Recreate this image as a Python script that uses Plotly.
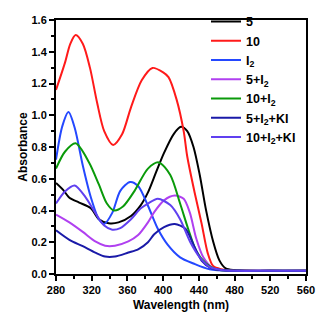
import plotly.graph_objects as go

# ---- data ----
x_5 = [280, 288, 295, 306, 319, 328, 339, 350, 364, 375, 383, 392, 401, 412, 420, 427, 434, 441, 448, 456, 463, 470, 480, 520, 560]
y_5 = [0.574, 0.53, 0.48, 0.45, 0.414, 0.345, 0.32, 0.325, 0.365, 0.434, 0.514, 0.64, 0.763, 0.883, 0.927, 0.9, 0.80, 0.624, 0.404, 0.205, 0.086, 0.036, 0.025, 0.02, 0.02]

x_10 = [280, 290, 296, 302, 310, 318, 326, 334, 344, 354, 364, 376, 388, 400, 406, 415, 423, 427, 435, 443, 450, 456, 465, 480, 520, 560]
y_10 = [1.16, 1.33, 1.45, 1.505, 1.45, 1.30, 1.08, 0.90, 0.813, 0.88, 1.05, 1.22, 1.298, 1.27, 1.24, 1.10, 0.90, 0.74, 0.52, 0.32, 0.13, 0.05, 0.03, 0.02, 0.02, 0.02]

x_i2 = [280, 287, 294, 301, 310, 319, 328, 334, 343, 352, 363, 372, 383, 394, 405, 419, 434, 452, 480, 520, 560]
y_i2 = [0.72, 0.93, 1.02, 0.92, 0.684, 0.484, 0.345, 0.315, 0.385, 0.524, 0.58, 0.554, 0.43, 0.285, 0.185, 0.105, 0.066, 0.03, 0.02, 0.02, 0.02]

x_5i2 = [280, 295, 310, 324, 335, 346, 361, 372, 383, 390, 401, 413, 423, 430, 437, 445, 456, 470, 480, 520, 560]
y_5i2 = [0.374, 0.325, 0.265, 0.205, 0.178, 0.178, 0.205, 0.245, 0.325, 0.39, 0.464, 0.494, 0.474, 0.385, 0.225, 0.105, 0.036, 0.022, 0.02, 0.02, 0.02]

x_10i2 = [280, 290, 302, 317, 328, 337, 345, 355, 368, 383, 395, 408, 419, 428, 437, 448, 459, 480, 520, 560]
y_10i2 = [0.664, 0.77, 0.823, 0.703, 0.564, 0.444, 0.40, 0.425, 0.524, 0.664, 0.703, 0.624, 0.444, 0.285, 0.145, 0.066, 0.03, 0.02, 0.02, 0.02]

x_5i2ki = [280, 295, 310, 324, 335, 346, 361, 372, 383, 390, 401, 413, 425, 434, 443, 454, 470, 480, 520, 560]
y_5i2ki = [0.275, 0.215, 0.175, 0.135, 0.11, 0.11, 0.135, 0.155, 0.2, 0.25, 0.295, 0.315, 0.285, 0.185, 0.085, 0.036, 0.022, 0.02, 0.02, 0.02]

x_10i2ki = [280, 290, 301, 313, 324, 334, 343, 352, 364, 375, 383, 394, 408, 419, 430, 441, 452, 465, 480, 520, 560]
y_10i2ki = [0.444, 0.52, 0.558, 0.484, 0.385, 0.305, 0.279, 0.289, 0.345, 0.414, 0.444, 0.474, 0.434, 0.345, 0.205, 0.105, 0.045, 0.025, 0.02, 0.02, 0.02]

names = ["5", "10", "I<sub>2</sub>", "5+I<sub>2</sub>", "10+I<sub>2</sub>", "5+I<sub>2</sub>+KI", "10+I<sub>2</sub>+KI"]
xs = [x_5, x_10, x_i2, x_5i2, x_10i2, x_5i2ki, x_10i2ki]
ys = [y_5, y_10, y_i2, y_5i2, y_10i2, y_5i2ki, y_10i2ki]
colors = ["#000000", "#ff1a1a", "#2448ff", "#b040f0", "#0a9a0a", "#1a1aa8", "#6040f0"]

fig = go.Figure()
for n, x, y, c in zip(names, xs, ys, colors):
    fig.add_trace(go.Scatter(x=x, y=y, name="<b>" + n + "</b>", mode="lines",
                             line=dict(color=c, width=2, shape="spline", smoothing=0.8)))

FONT = "Liberation Sans, Arial, sans-serif"
fig.update_layout(
    width=322, height=319,
    margin=dict(l=56, r=11, t=7, b=45),
    paper_bgcolor="white", plot_bgcolor="white",
    font=dict(family=FONT, size=11, color="black"),
    showlegend=True,
    legend=dict(x=0.6, y=1.052, xanchor="left", yanchor="top",
                bgcolor="rgba(0,0,0,0)", font=dict(size=12.5, family=FONT),
                tracegroupgap=0, itemwidth=30),
    xaxis=dict(range=[280, 560], dtick=40, tick0=280, showgrid=False, zeroline=False,
               showline=True, linewidth=2, linecolor="black", mirror=True,
               ticks="outside", ticklen=5, tickwidth=2, tickcolor="black",
               minor=dict(dtick=20, ticks="outside", ticklen=3, tickwidth=1.5, tickcolor="black"),
               tickfont=dict(size=11, family=FONT), tickprefix="<b>", ticksuffix="</b>",
               title=dict(text="<b>Wavelength (nm)</b>", font=dict(size=12, family=FONT), standoff=5)),
    yaxis=dict(range=[0, 1.6], dtick=0.2, tick0=0, tickformat=".1f", showgrid=False, zeroline=False,
               showline=True, linewidth=2, linecolor="black", mirror=True,
               ticks="outside", ticklen=5, tickwidth=2, tickcolor="black",
               minor=dict(dtick=0.1, ticks="outside", ticklen=3, tickwidth=1.5, tickcolor="black"),
               tickfont=dict(size=11, family=FONT), tickprefix="<b>", ticksuffix="</b>",
               title=dict(text="<b>Absorbance</b>", font=dict(size=12, family=FONT), standoff=1)),
)

fig.write_html("out.html", config={"displayModeBar": False},
               post_script="document.body.style.margin='0px';document.body.style.overflow='hidden';")
